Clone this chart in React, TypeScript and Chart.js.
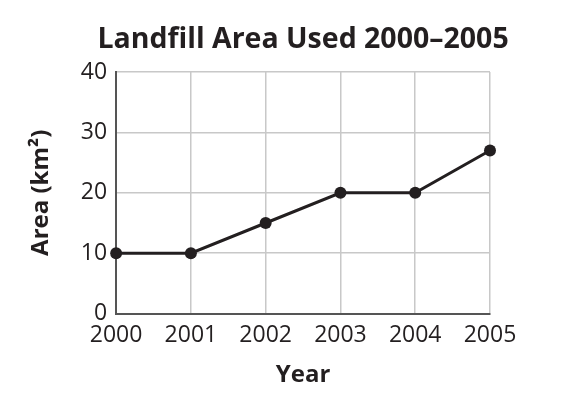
import React, { useEffect, useRef } from "react";
import { Chart, registerables } from "chart.js";

Chart.register(...registerables);

const years = ["2000", "2001", "2002", "2003", "2004", "2005"];
const areaValues = [10, 10, 15, 20, 20, 27];
const yTicks = [0, 10, 20, 30, 40];
const chartTitle = "Landfill Area Used 2000–2005";

const INK = "#231f20";
const FONT = "'Open Sans', 'Noto Sans', sans-serif";

const centeredTitle = {
  id: "centeredTitle",
  afterDraw(chart: any) {
    const { ctx, chartArea } = chart;
    ctx.save();
    ctx.font = `bold 28.5px ${FONT}`;
    ctx.fillStyle = INK;
    ctx.textAlign = "center";
    ctx.textBaseline = "alphabetic";
    ctx.fillText(chartTitle, (chartArea.left + chartArea.right) / 2, 48);
    ctx.restore();
  },
};

export default function App() {
  const ref = useRef<HTMLCanvasElement | null>(null);

  useEffect(() => {
    document.body.style.margin = "0";
    const canvas = ref.current;
    if (!canvas) return;
    const chart = new Chart(canvas, {
      type: "line",
      data: {
        labels: years,
        datasets: [
          {
            data: areaValues,
            borderColor: INK,
            backgroundColor: INK,
            borderWidth: 3,
            pointRadius: 6,
            pointBackgroundColor: INK,
            pointBorderWidth: 0,
            tension: 0,
          },
        ],
      },
      plugins: [centeredTitle],
      options: {
        animation: false,
        responsive: false,
        layout: { padding: { left: 27, right: 72, top: 72, bottom: 4 } },
        plugins: {
          legend: { display: false },
          tooltip: { enabled: false },
          title: { display: false },
        },
        scales: {
          x: {
            type: "category",
            offset: false,
            grid: { color: "#c8c8c8", lineWidth: 1.5, drawTicks: false },
            border: { color: "#555555", width: 2 },
            ticks: {
              color: INK,
              font: { family: FONT, size: 23 },
              padding: 8,
              maxRotation: 0,
            },
            title: {
              display: true,
              text: "Year",
              color: INK,
              font: { family: FONT, size: 24, weight: "bold" },
              padding: { top: 4, bottom: 0 },
            },
          },
          y: {
            min: 0,
            max: 40,
            afterBuildTicks: (axis: any) => {
              axis.ticks = yTicks.map((v) => ({ value: v }));
            },
            grid: { color: "#c8c8c8", lineWidth: 1.5, drawTicks: false },
            border: { color: "#555555", width: 2 },
            ticks: {
              color: INK,
              font: { family: FONT, size: 23 },
              padding: 9,
            },
            title: {
              display: true,
              text: "Area (km²)",
              color: INK,
              font: { family: FONT, size: 24, weight: "bold" },
              padding: { top: 0, bottom: 16 },
            },
          },
        },
      },
    });
    return () => chart.destroy();
  }, []);

  return (
    <div style={{ width: 562, height: 394, background: "#fff" }}>
      <canvas ref={ref} width={562} height={394} style={{ display: "block" }} />
    </div>
  );
}
